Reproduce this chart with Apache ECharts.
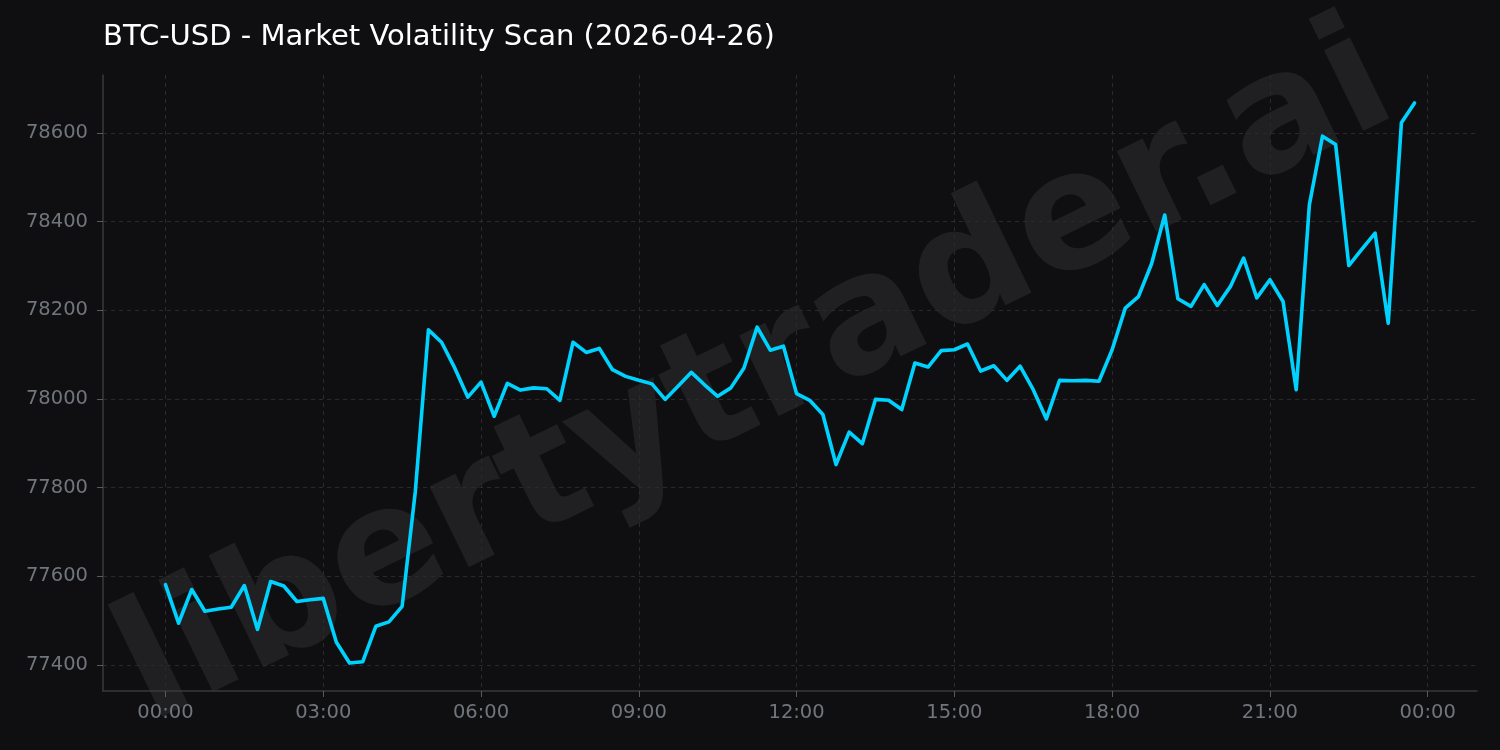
<!DOCTYPE html>
<html>
<head>
<meta charset="utf-8">
<script src="https://cdn.jsdelivr.net/npm/echarts@6/dist/echarts.min.js"></script>
<style>
html,body{margin:0;padding:0;background:#0f0f11;}
#chart{width:1500px;height:750px;}
</style>
</head>
<body>
<div id="chart"></div>
<script>
const titleText = 'BTC-USD - Market Volatility Scan (2026-04-26)';
const watermarkText = 'libertytrader.ai';
// time of each sample, in hours after 00:00 (15-minute steps)
const hours = [
  0,0.25,0.5,0.75,1,1.25,1.5,1.75,2,2.25,2.5,2.75,3,3.25,3.5,3.75,
  4,4.25,4.5,4.75,5,5.25,5.5,5.75,6,6.25,6.5,6.75,7,7.25,7.5,7.75,
  8,8.25,8.5,8.75,9,9.25,9.5,9.75,10,10.25,10.5,10.75,11,11.25,11.5,11.75,
  12,12.25,12.5,12.75,13,13.25,13.5,13.75,14,14.25,14.5,14.75,15,15.25,15.5,15.75,
  16,16.25,16.5,16.75,17,17.25,17.5,17.75,18,18.25,18.5,18.75,19,19.25,19.5,19.75,
  20,20.25,20.5,20.75,21,21.25,21.5,21.75,22,22.25,22.5,22.75,23,23.25,23.5,23.75
];
const prices = [
  77581,77494,77570,77521,77526,77530,77579,77480,77588,77578,77543,77547,77550,77451,77404,77407,
  77487,77497,77532,77790,78156,78128,78070,78004,78038,77961,78035,78020,78025,78023,77997,78128,
  78105,78114,78066,78051,78042,78034,77999,78029,78060,78032,78006,78025,78070,78162,78110,78119,
  78012,77997,77965,77852,77925,77899,77999,77997,77976,78081,78072,78109,78111,78124,78063,78075,
  78042,78074,78021,77955,78042,78041,78042,78040,78111,78205,78231,78305,78415,78226,78209,78258,
  78211,78254,78318,78228,78269,78220,78021,78438,78593,78574,78301,78338,78374,78171,78623,78668
];
const xTicks = [0,3,6,9,12,15,18,21,24];
const xTickLabels = ['00:00','03:00','06:00','09:00','12:00','15:00','18:00','21:00','00:00'];
const yTicks = [77400,77600,77800,78000,78200,78400,78600];

const chart = echarts.init(document.getElementById('chart'));
const labelColor = '#71757c';
const gridColor = '#2a2a2d';
chart.setOption({
  backgroundColor: '#0f0f11',
  animation: false,
  title: {
    text: titleText,
    left: 98, top: 18,
    textStyle: { color: '#ffffff', fontFamily: 'DejaVu Sans', fontSize: 29, fontWeight: 'normal' }
  },
  graphic: [{
    type: 'text',
    x: 757, y: 379,
    rotation: 26 * Math.PI / 180,
    z: 0,
    silent: true,
    style: {
      text: watermarkText,
      fill: 'rgba(255,255,255,0.075)',
      font: 'bold 164px "DejaVu Sans"',
      textAlign: 'center',
      textVerticalAlign: 'middle',
      align: 'center',
      verticalAlign: 'middle'
    }
  }],
  grid: { left: 103, right: 23, top: 75, bottom: 59, containLabel: false },
  xAxis: {
    type: 'value',
    min: -1.1875, max: 24.9375,
    axisLine: { show: true, onZero: false, lineStyle: { color: '#3a3a3d', width: 1.5 } },
    axisTick: { show: true, customValues: xTicks, length: 6, lineStyle: { color: '#5a5a5e' } },
    axisLabel: {
      customValues: xTicks,
      color: labelColor, fontFamily: 'DejaVu Sans', fontSize: 19.5, margin: 12,
      formatter: v => xTickLabels[xTicks.indexOf(v)] ?? ''
    },
    splitLine: { show: true, lineStyle: { color: gridColor, type: [4, 4], width: 1 } }
  },
  yAxis: {
    type: 'value',
    min: 77341, max: 78731,
    axisLine: { show: true, onZero: false, lineStyle: { color: '#3a3a3d', width: 1.5 } },
    axisTick: { show: true, customValues: yTicks, length: 6, lineStyle: { color: '#5a5a5e' } },
    axisLabel: {
      customValues: yTicks,
      color: labelColor, fontFamily: 'DejaVu Sans', fontSize: 19.5, margin: 15,
      formatter: v => String(v)
    },
    splitLine: { show: true, lineStyle: { color: gridColor, type: [4, 4], width: 1 } }
  },
  series: [{
    type: 'line',
    data: hours.map((h, i) => [h, prices[i]]),
    showSymbol: false,
    symbol: 'none',
    z: 5,
    lineStyle: { color: '#00d2ff', width: 3.6, join: 'round', cap: 'round' }
  }]
});
</script>
</body>
</html>
